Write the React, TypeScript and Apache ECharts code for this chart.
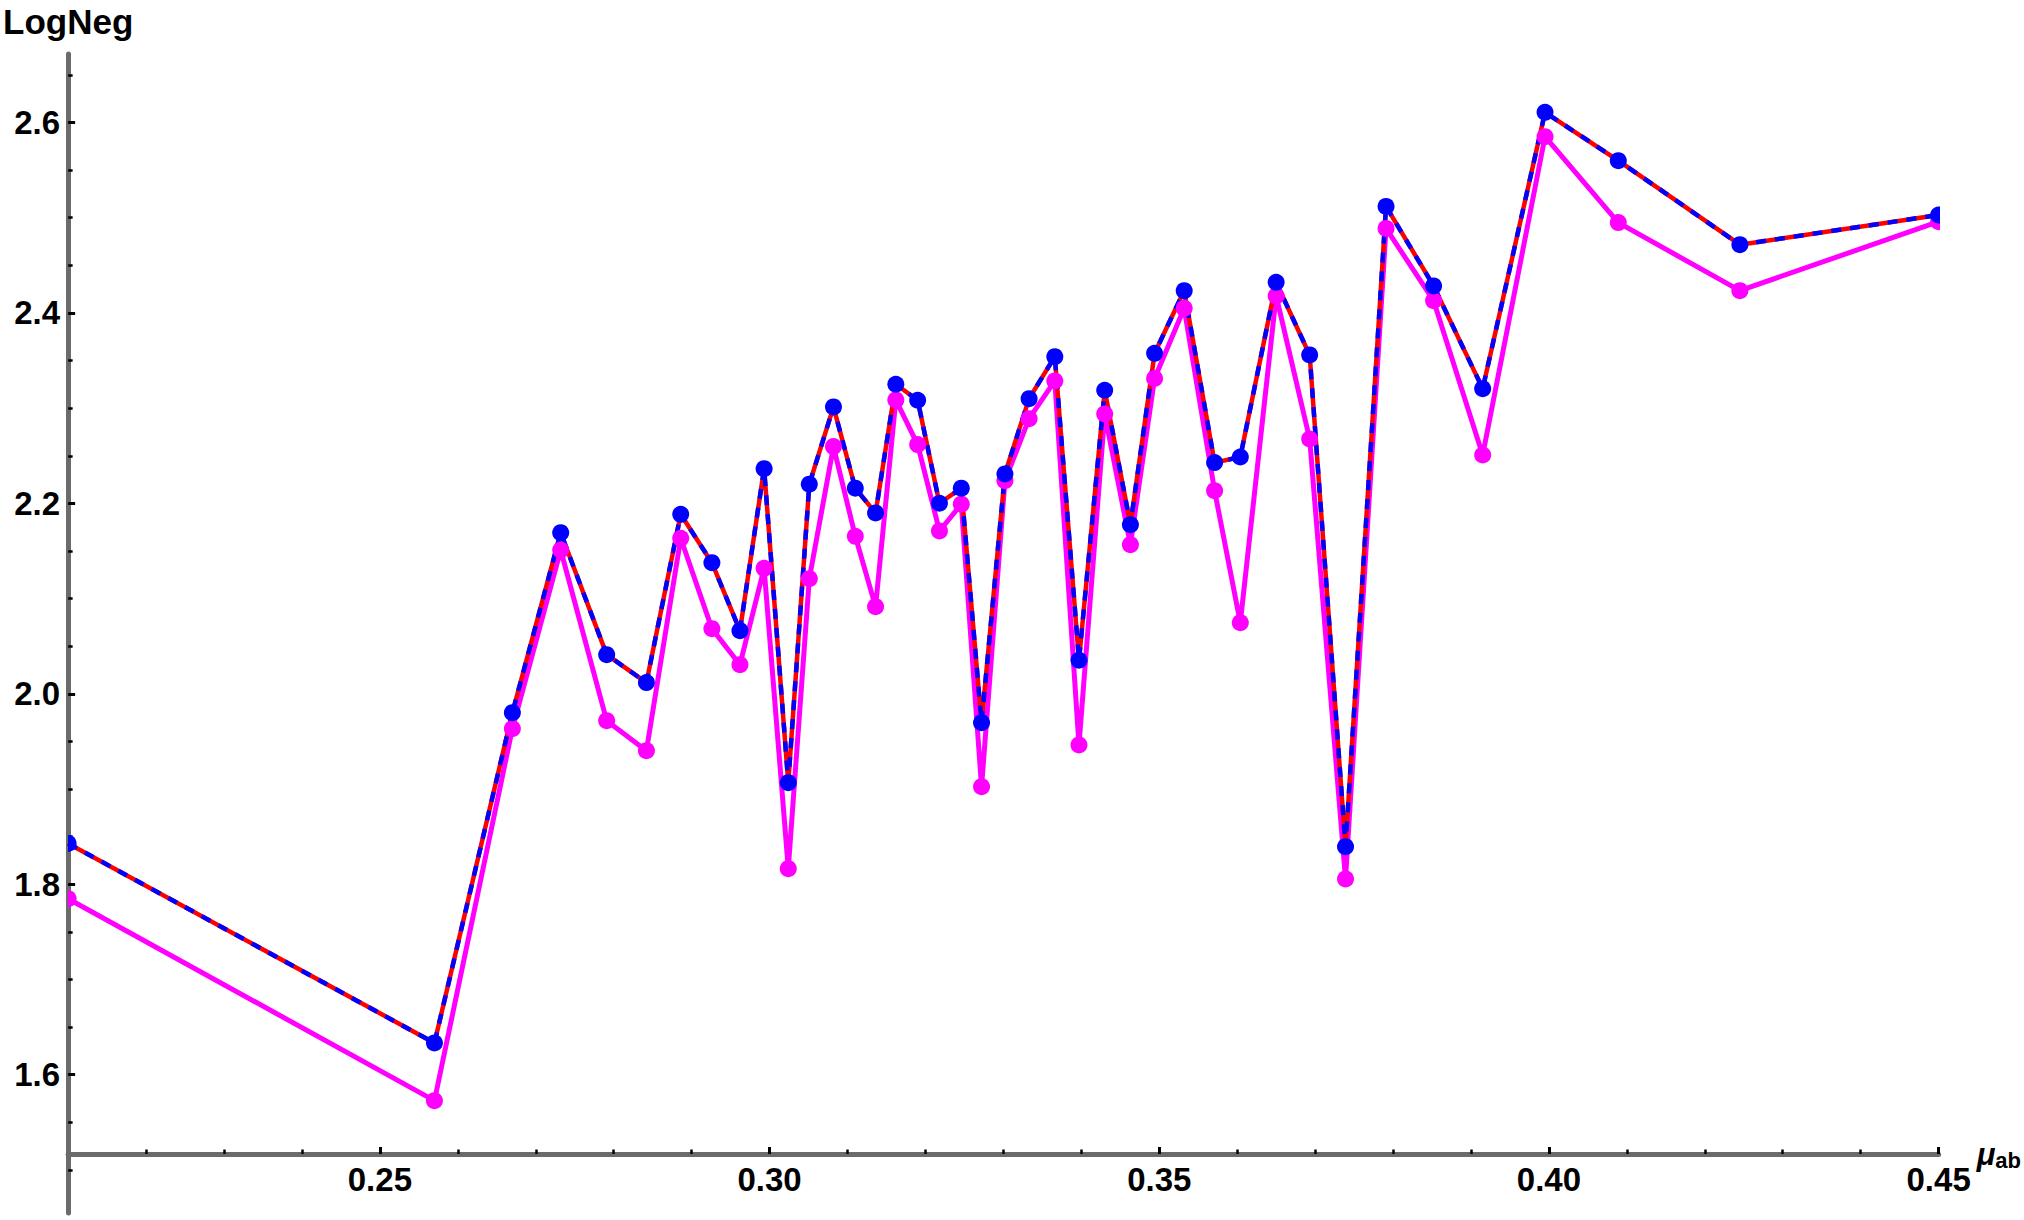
import React, { useEffect, useRef } from "react";
import * as echarts from "echarts";

// μ_ab values (x)
const muValues = [
  0.21, 0.257, 0.267, 0.2732, 0.2791, 0.2842, 0.2886, 0.2926, 0.2962, 0.2993,
  0.3024, 0.3051, 0.3082, 0.311, 0.3136, 0.3162, 0.319, 0.3218, 0.3246, 0.3272,
  0.3302, 0.3333, 0.3366, 0.3397, 0.343, 0.3463, 0.3494, 0.3532, 0.3571, 0.3604,
  0.365, 0.3693, 0.3739, 0.3791, 0.3852, 0.3915, 0.3995, 0.4089, 0.4245, 0.45,
];

// LogNeg, red/blue dashed series (blue markers)
const blueValues = [
  1.8428, 1.6332, 1.9801, 2.1692, 2.0411, 2.0117, 2.1885, 2.1377, 2.0663, 2.2364,
  1.9066, 2.2201, 2.3013, 2.2159, 2.1899, 2.3251, 2.3083, 2.2001, 2.2159, 1.9696,
  2.2309, 2.31, 2.3541, 2.0352, 2.3188, 2.1776, 2.3576, 2.4234, 2.2428, 2.2487,
  2.4322, 2.3559, 1.8394, 2.5119, 2.4284, 2.3205, 2.6108, 2.56, 2.4717, 2.5029,
];

// LogNeg, magenta series
const magentaValues = [
  1.7847, 1.5726, 1.9633, 2.151, 1.9717, 1.9402, 2.1633, 2.0684, 2.0305, 2.1318,
  1.8163, 2.1209, 2.2596, 2.1654, 2.0915, 2.3086, 2.2617, 2.171, 2.1991, 1.9024,
  2.2238, 2.289, 2.3286, 1.9462, 2.2939, 2.1566, 2.3312, 2.4049, 2.2133, 2.0747,
  2.4179, 2.2676, 1.8055, 2.4888, 2.4129, 2.2508, 2.5852, 2.4949, 2.4234, 2.4959,
];

const xMajorTicks = [0.25, 0.3, 0.35, 0.4, 0.45];
const xMinorTicks = [
  0.22, 0.23, 0.24, 0.26, 0.27, 0.28, 0.29, 0.31, 0.32, 0.33, 0.34, 0.36, 0.37,
  0.38, 0.39, 0.41, 0.42, 0.43, 0.44,
];
const yMajorTicks = [1.6, 1.8, 2.0, 2.2, 2.4, 2.6];
const yMinorTicks = [
  1.5, 1.55, 1.65, 1.7, 1.75, 1.85, 1.9, 1.95, 2.05, 2.1, 2.15, 2.25, 2.3, 2.35,
  2.45, 2.5, 2.55, 2.65,
];

const X_MIN = 0.21;
const X_MAX = 0.45;
const Y_MIN = 1.4546;
const Y_MAX = 2.672;

const FONT = "'Liberation Sans', Arial, Helvetica, sans-serif";
const AXIS_GRAY = "#6b6b6b";

export default function App() {
  const ref = useRef<HTMLDivElement>(null);

  useEffect(() => {
    if (!ref.current) return;
    const chart = echarts.init(ref.current, null, { renderer: "svg" });

    const pairs = (ys: number[]) => muValues.map((x, i) => [x, ys[i]]);
    const blueData = pairs(blueValues);
    const magentaData = pairs(magentaValues);

    const markerSeries = (data: number[][], color: string, z: number) => ({
      type: "custom",
      data,
      z,
      clip: true,
      silent: true,
      encode: { x: 0, y: 1 },
      renderItem: (params: any, api: any) => {
        const p = api.coord([api.value(0), api.value(1)]);
        return {
          type: "circle",
          shape: { cx: p[0], cy: p[1], r: 8.5 },
          style: { fill: color },
        };
      },
    });

    const baseX = {
      type: "value",
      min: X_MIN,
      max: X_MAX,
      position: "bottom",
      offset: -59,
      splitLine: { show: false },
    };
    const baseY = {
      type: "value",
      min: Y_MIN,
      max: Y_MAX,
      position: "left",
      splitLine: { show: false },
    };

    const option: any = {
      animation: false,
      backgroundColor: "#ffffff",
      grid: { left: 64.5, right: 82, top: 54, bottom: 7, containLabel: false },
      xAxis: [
        {
          ...baseX,
          axisLine: { show: true, lineStyle: { color: AXIS_GRAY, width: 5 } },
          axisTick: {
            show: true,
            inside: true,
            length: 7,
            lineStyle: { color: "#000", width: 3 },
            customValues: xMajorTicks,
          },
          axisLabel: {
            show: true,
            customValues: xMajorTicks,
            formatter: (v: number) => v.toFixed(2),
            fontSize: 33,
            fontWeight: "bold",
            fontFamily: FONT,
            color: "#000",
            margin: 9,
          },
          name: "{mu|μ}{ab|ab}",
          nameLocation: "end",
          nameGap: 22,
          nameTextStyle: {
            rich: {
              mu: {
                fontSize: 31,
                fontStyle: "italic",
                fontWeight: "bold",
                fontFamily: FONT,
                color: "#000",
              },
              ab: {
                fontSize: 22,
                fontWeight: "bold",
                fontFamily: FONT,
                color: "#000",
                padding: [12, 0, 0, 0],
              },
            },
          },
        },
        {
          ...baseX,
          axisLine: { show: false },
          axisTick: {
            show: true,
            inside: true,
            length: 4.5,
            lineStyle: { color: "#000", width: 2.5 },
            customValues: xMinorTicks,
          },
          axisLabel: { show: false },
        },
      ],
      yAxis: [
        {
          ...baseY,
          axisLine: { show: true, lineStyle: { color: AXIS_GRAY, width: 5 } },
          axisTick: {
            show: true,
            inside: true,
            length: 7,
            lineStyle: { color: "#000", width: 3 },
            customValues: yMajorTicks,
          },
          axisLabel: {
            show: true,
            customValues: yMajorTicks,
            formatter: (v: number) => v.toFixed(1),
            fontSize: 33,
            fontWeight: "bold",
            fontFamily: FONT,
            color: "#000",
            margin: 8,
          },
          name: "LogNeg",
          nameLocation: "end",
          nameGap: 15,
          nameTextStyle: {
            fontSize: 35,
            fontWeight: "bold",
            fontFamily: FONT,
            color: "#000",
          },
        },
        {
          ...baseY,
          axisLine: { show: false },
          axisTick: {
            show: true,
            inside: true,
            length: 4.5,
            lineStyle: { color: "#000", width: 2.5 },
            customValues: yMinorTicks,
          },
          axisLabel: { show: false },
        },
      ],
      series: [
        {
          type: "line",
          data: magentaData,
          showSymbol: false,
          clip: true,
          z: 2,
          silent: true,
          lineStyle: { color: "#ff00ff", width: 5 },
        },
        {
          type: "line",
          data: blueData,
          showSymbol: false,
          clip: true,
          z: 3,
          silent: true,
          lineStyle: { color: "#ff0000", width: 4.5 },
        },
        {
          type: "line",
          data: blueData,
          showSymbol: false,
          clip: true,
          z: 4,
          silent: true,
          lineStyle: { color: "#0000ff", width: 4.5, type: [10, 9] },
        },
        markerSeries(magentaData, "#ff00ff", 5),
        markerSeries(blueData, "#0000ff", 6),
      ],
    };

    chart.setOption(option);
    return () => chart.dispose();
  }, []);

  return (
    <div
      ref={ref}
      style={{
        position: "fixed",
        left: 0,
        top: 0,
        width: 2024,
        height: 1220,
        background: "#ffffff",
      }}
    />
  );
}
